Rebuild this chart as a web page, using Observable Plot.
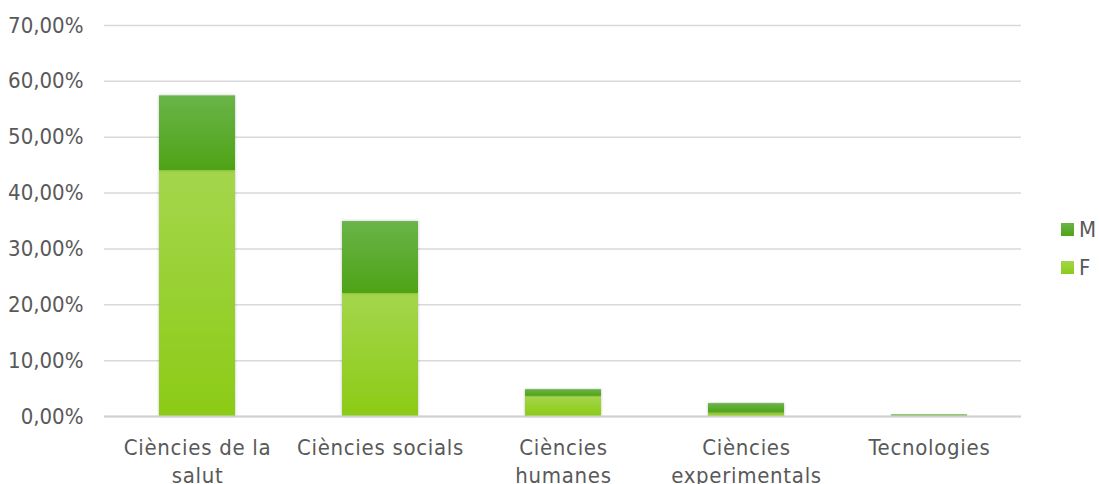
<!DOCTYPE html>
<html><head><meta charset="utf-8">
<script src="https://cdn.jsdelivr.net/npm/d3@7"></script>
<script src="https://cdn.jsdelivr.net/npm/@observablehq/plot@0.6"></script>
<style>
body{margin:0;background:#fff;font-family:"DejaVu Sans Condensed","DejaVu Sans",sans-serif;font-stretch:condensed;}
#wrap{position:relative;width:1099px;height:484px;overflow:hidden;}
.leg{position:absolute;left:1061px;font-size:22px;color:#595959;display:flex;align-items:center;height:24px;}
.leg span.sw{display:inline-block;width:13px;height:13px;margin-right:5px;}
</style>
</head><body>
<div id="wrap"></div>
<script>
const categories = ["Ciències de la salut","Ciències socials","Ciències humanes","Ciències experimentals","Tecnologies"];
const tickLabels = ["Ciències de la\nsalut","Ciències socials","Ciències\nhumanes","Ciències\nexperimentals","Tecnologies"];
const valuesF = [44.0, 22.0, 3.6, 0.6, 0.1];
const valuesM = [13.4, 12.9, 1.2, 1.7, 0.2];
const series = ["F","M"];
const yTicks = [0,10,20,30,40,50,60,70];

const data = [];
categories.forEach((c,i)=>{
  data.push({cat:c, sex:"F", v:valuesF[i]});
  data.push({cat:c, sex:"M", v:valuesM[i]});
});
const fmt = d => d.toFixed(2).replace(".", ",") + "%";
const labelOf = new Map(categories.map((c,i)=>[c,tickLabels[i]]));
const FONT = "'DejaVu Sans Condensed','DejaVu Sans',sans-serif";

const chart = Plot.plot({
  width:1099, height:484,
  marginTop:25, marginBottom:68, marginLeft:104, marginRight:78,
  style:{fontFamily:FONT, fontSize:"22px", color:"#595959", background:"#fff", fontStretch:"condensed"},
  x:{domain:categories, paddingInner:0.585, paddingOuter:0.2925},
  y:{domain:[0,70]},
  color:{domain:series, range:["url(#gF)","url(#gM)"]},
  marks:[
    Plot.gridY(yTicks,{stroke:"#d9d9d9", strokeOpacity:1, strokeWidth:1.5}),
    Plot.barY(data, Plot.stackY({x:"cat", y:"v", fill:"sex", order:series})),
    Plot.ruleY([0],{stroke:"#d0d0d0", strokeWidth:2}),
    Plot.axisY(yTicks,{tickSize:0, tickPadding:21, tickFormat:fmt, label:null, fill:"#595959", fontSize:22}),
    Plot.axisX({tickSize:0, tickPadding:19, tickFormat:d=>labelOf.get(d), label:null, fill:"#595959", fontSize:22, lineHeight:1.25})
  ]
});
const svg = d3.select(chart);
const defs = svg.insert("defs",":first-child");
const gF = defs.append("linearGradient").attr("id","gF").attr("x1",0).attr("y1",0).attr("x2",0).attr("y2",1);
gF.append("stop").attr("offset","0%").attr("stop-color","#a4d64c");
gF.append("stop").attr("offset","100%").attr("stop-color","#8ccb16");
const gM = defs.append("linearGradient").attr("id","gM").attr("x1",0).attr("y1",0).attr("x2",0).attr("y2",1);
gM.append("stop").attr("offset","0%").attr("stop-color","#6ab449");
gM.append("stop").attr("offset","100%").attr("stop-color","#4ea316");
const f = defs.append("filter").attr("id","sh").attr("x","-10%").attr("y","-10%").attr("width","120%").attr("height","120%");
f.append("feDropShadow").attr("dx",0).attr("dy",0).attr("stdDeviation",1.5).attr("flood-color","#000").attr("flood-opacity",0.25);
chart.querySelectorAll("g[aria-label='bar'] rect").forEach(r=>r.setAttribute("filter","url(#sh)"));
chart.querySelectorAll("g[aria-label='x-axis tick label'] text").forEach(t=>t.setAttribute("letter-spacing","0.7"));

const wrap = document.getElementById("wrap");
wrap.appendChild(chart);
[["M","linear-gradient(#6ab449,#4ea316)",217],["F","linear-gradient(#a4d64c,#8ccb16)",255]].forEach(([t,bg,top])=>{
  const d = document.createElement("div");
  d.className="leg"; d.style.top=top+"px";
  d.innerHTML = `<span class="sw" style="background:${bg}"></span><span>${t}</span>`;
  wrap.appendChild(d);
});
</script>
</body></html>
